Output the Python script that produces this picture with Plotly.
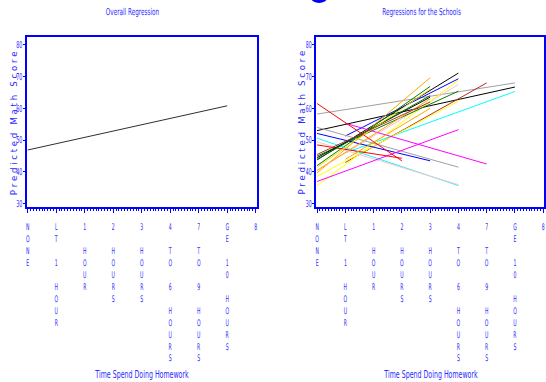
import plotly.graph_objects as go

W, H = 546, 382

# ---------------- data ----------------
x_codes = [0, 1, 2, 3, 4, 5, 6, 7, 8]
x_labels = ["NONE", "LT 1 HOUR", "1 HOUR", "2 HOURS", "3 HOURS",
            "4 TO 6 HOURS", "7 TO 9 HOURS", "GE 10 HOURS", "8"]
y_ticks = [30, 40, 50, 60, 70, 80]

overall_x = [0, 7]
overall_y = [46.9, 60.8]

school_x0 = [0, 0, 1, 1, 0, 1, 0, 0, 0, 0, 0, 0, 0, 0, 0, 0, 0, 1, 0, 0, 0, 0, 0, 0, 0, 1]
school_y0 = [58.2, 53.0, 46.0, 43.0, 43.8, 51.3, 39.7, 42.0, 40.5, 35.7, 45.0, 38.6,
             54.0, 52.1, 50.6, 49.5, 37.0, 55.3, 61.5, 48.5, 40.5, 44.5, 44.0, 41.5, 45.5, 44.0]
school_x1 = [7, 7, 7, 6, 5, 5, 4, 4, 5, 5, 5, 5, 5, 4, 5, 5, 5, 6, 3, 3, 4, 4, 4, 4, 4, 4]
school_y1 = [68.0, 66.7, 65.3, 68.0, 71.1, 69.3, 69.6, 66.9, 67.5, 68.8, 65.4, 62.3,
             41.5, 43.5, 35.7, 36.0, 53.3, 42.5, 43.5, 44.3, 63.0, 63.5, 64.0, 66.0, 62.0, 60.0]
school_color = ["#a0a0a0", "#000000", "#00ffff", "#b03030", "#000000", "#0000ff",
                "#ffa500", "#008000", "#ffc0cb", "#ffff00", "#008000", "#ffff00",
                "#a0a0a0", "#0000ff", "#00ffff", "#ffc0cb", "#ff00ff", "#ff00ff",
                "#ff0000", "#ff0000", "#ffa500", "#000000", "#008000", "#ffd700",
                "#b03030", "#ffa500"]

# ---------------- styling ----------------
BLUE = "#0000ff"
TXT = "#2a2aff"
FONT = "DejaVu Sans, sans-serif"


def stack(s):
    return "<br>".join(ch if ch != " " else "\u00a0" for ch in s)


tick_text = [stack(s) for s in x_labels]

fig = go.Figure()

fig.add_trace(go.Scatter(x=overall_x, y=overall_y, mode="lines",
                         line=dict(color="#303030", width=1),
                         xaxis="x", yaxis="y", showlegend=False, hoverinfo="skip"))

for i in range(len(school_x0)):
    fig.add_trace(go.Scatter(x=[school_x0[i], school_x1[i]], y=[school_y0[i], school_y1[i]],
                             mode="lines", line=dict(color=school_color[i], width=1),
                             xaxis="x2", yaxis="y2", showlegend=False, hoverinfo="skip"))


def xax(domain, rng, anchor):
    return dict(domain=domain, range=rng, anchor=anchor, tickmode="array",
                tickvals=x_codes, ticktext=tick_text, showgrid=False, zeroline=False,
                showline=True, linecolor=BLUE, linewidth=2, mirror=True,
                ticks="outside", ticklen=4, tickcolor=BLUE, tickwidth=1,
                tickfont=dict(family=FONT, size=9.2, color=TXT), tickangle=0,
                ticklabelstandoff=6, ticklabeloverflow="allow",
                minor=dict(ticks="outside", ticklen=2, dtick=0.1, tickcolor=BLUE, tickwidth=1, showgrid=False))


def yax(domain, anchor):
    return dict(domain=domain, range=[29.0, 82.5], anchor=anchor, tickmode="array",
                tickvals=y_ticks, ticktext=[str(v) for v in y_ticks],
                showgrid=False, zeroline=False, showline=True, linecolor=BLUE,
                linewidth=2, mirror=True, ticks="outside", ticklen=2, tickcolor=BLUE,
                tickfont=dict(family=FONT, size=9.5, color=TXT), ticklabelstandoff=1)


ydom = [1 - 208 / H, 1 - 37 / H]
fig.update_layout(
    width=W, height=H, margin=dict(l=0, r=0, t=0, b=0),
    paper_bgcolor="white", plot_bgcolor="white",
    xaxis=xax([24 / W, 256 / W], [-0.035, 8.035], "y"),
    yaxis=yax(ydom, "x"),
    xaxis2=xax([316 / W, 1.0], [-0.035, 8.03], "y2"),
    yaxis2=yax(ydom, "x2"),
)


def ann(text, px, py, size, angle=0):
    fig.add_annotation(text=text, x=px / W, y=1 - py / H, xref="paper", yref="paper",
                       showarrow=False, xanchor="center", yanchor="middle", textangle=angle,
                       font=dict(family=FONT, size=size, color=TXT))


ann("Overall Regression", 131, 12, 9.5)
ann("Regressions for the Schools", 422.5, 12, 9.5)
ann("Time Spend Doing Homework", 140.5, 375.5, 10.5)
ann("Time Spend Doing Homework", 431.5, 375.5, 10.5)
ytitle = "\u00a0".join("\u00a0".join(w) for w in ["Predicted", "Math", "Score"]).replace("\u00a0M", "\u00a0\u00a0\u00a0M").replace("\u00a0S", "\u00a0\u00a0\u00a0S")
ann(ytitle, 10.5, 123.5, 8.6, angle=-90)
ann(ytitle, 301.5, 123.5, 8.6, angle=-90)

# blue blob cut off at the top edge
fig.add_shape(type="circle", xref="paper", yref="paper",
              x0=311 / W, x1=327 / W, y0=1 - 3 / H, y1=1 + 7 / H,
              fillcolor=BLUE, line=dict(color=BLUE, width=0))

# condense the glyphs horizontally (the original uses a very narrow font)
post = """
var gd = document.getElementById('{plot_id}');
function squeeze(sel, s, skip, anchor, dx) {
  dx = dx || 0;
  gd.querySelectorAll(sel).forEach(function(t){
    if (skip && t.textContent.charAt(0) === skip) return;
    var p = t.parentNode;
    var w = document.createElementNS('http://www.w3.org/2000/svg', 'g');
    p.insertBefore(w, t);
    w.appendChild(t);
    var b = w.getBBox();
    var cx = (anchor === 'right') ? (b.x + b.width) : (b.x + b.width / 2);
    w.setAttribute('transform', 'translate(' + (cx + dx) + ',0) scale(' + s + ',1) translate(' + (-cx) + ',0)');
  });
}
squeeze('g.xtick text', 0.5);
squeeze('g.x2tick text', 0.5);
squeeze('g.ytick text', 0.5, null, 'right', 2.5);
squeeze('g.y2tick text', 0.5, null, 'right', 2.5);
squeeze('text.annotation-text', 0.6, 'P');
"""

fig.write_html("out.html", post_script=post)
